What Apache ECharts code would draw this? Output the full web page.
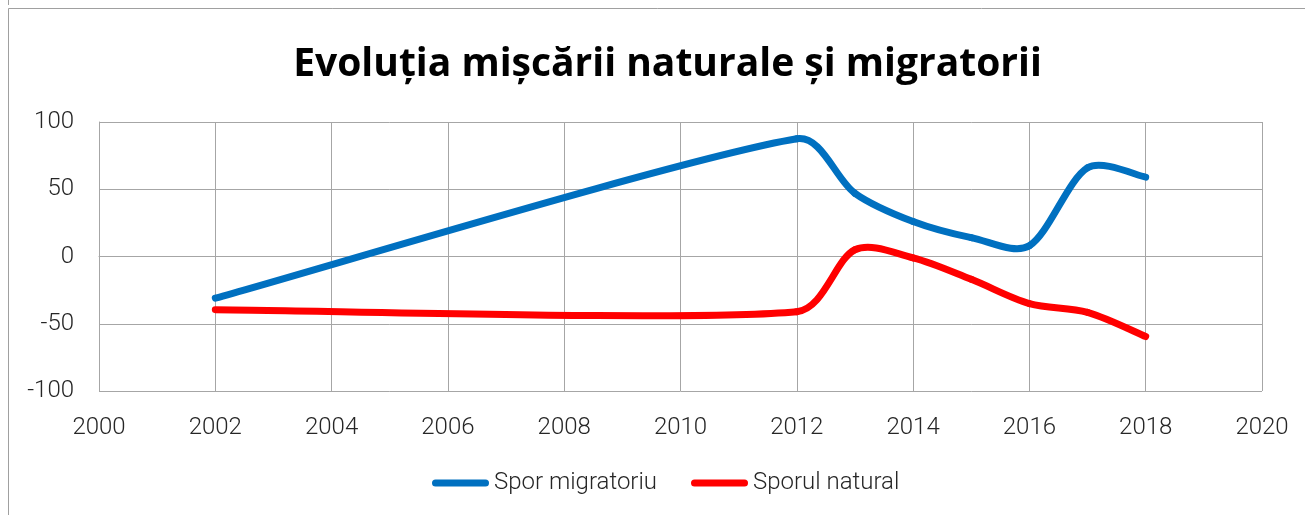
<!DOCTYPE html>
<html>
<head>
<meta charset="utf-8">
<script src="https://cdn.jsdelivr.net/npm/echarts@6/dist/echarts.min.js"></script>
<style>
html,body{margin:0;padding:0;background:#fff;}
#c{width:1305px;height:515px;}
</style>
</head>
<body>
<div id="c"></div>
<script>
const titleText = 'Evoluția mișcării naturale și migratorii';
const seriesNames = ['Spor migratoriu', 'Sporul natural'];
const years = [2002, 2012, 2013, 2014, 2015, 2016, 2017, 2018];
const migValues = [-31, 87.5, 47, 26, 14, 8, 66, 59];
const natValues = [-39.5, -41, 5, -1, -17, -35, -41.5, -59.5];
const xTicks = { min: 2000, max: 2020, step: 2 };
const yTicks = { min: -100, max: 100, step: 50 };

const pairs = (xs, ys) => xs.map((x, i) => [x, ys[i]]);
const labelFont = 'Roboto, "Liberation Sans", sans-serif';

// Excel-like smoothed line: each segment is a cubic Bezier whose control
// points follow the neighbouring points (chord-length weighted, capped).
function smoothRenderer(color) {
  return function (params, api) {
    const i = params.dataIndexInside;
    const n = params.dataInsideLength;
    if (i >= n - 1) return null;
    const pt = (k) => {
      k = Math.max(0, Math.min(n - 1, k));
      return api.coord([api.value(0, k), api.value(1, k)]);
    };
    const dist = (a, b) => Math.hypot(a[0] - b[0], a[1] - b[1]);
    const p0 = pt(i - 1), p1 = pt(i), p2 = pt(i + 1), p3 = pt(i + 2);
    const d01 = dist(p0, p1), d12 = dist(p1, p2), d23 = dist(p2, p3);
    const f1 = Math.min(d12 / (d01 + d12), 0.5) / 3;
    const f2 = Math.min(d12 / (d12 + d23), 0.5) / 3;
    return {
      type: 'bezierCurve',
      shape: {
        x1: p1[0], y1: p1[1],
        cpx1: p1[0] + (p2[0] - p0[0]) * f1, cpy1: p1[1] + (p2[1] - p0[1]) * f1,
        cpx2: p2[0] - (p3[0] - p1[0]) * f2, cpy2: p2[1] - (p3[1] - p1[1]) * f2,
        x2: p2[0], y2: p2[1]
      },
      style: { stroke: color, lineWidth: 7, fill: null, lineCap: 'round', lineJoin: 'round' }
    };
  };
}

const chart = echarts.init(document.getElementById('c'), null, { renderer: 'canvas' });
chart.setOption({
  animation: false,
  backgroundColor: '#ffffff',
  graphic: [
    { type: 'rect', shape: { x: 8.5, y: 8.5, width: 1400, height: 600 }, style: { fill: 'none', stroke: '#a0a0a0', lineWidth: 1 }, silent: true },
    { type: 'line', shape: { x1: 8.5, y1: 0, x2: 8.5, y2: 5 }, style: { stroke: '#a0a0a0', lineWidth: 1 }, silent: true }
  ],
  title: {
    text: titleText,
    left: 662.5,
    textAlign: 'center',
    top: 40,
    textStyle: { fontFamily: '"Open Sans", sans-serif', fontWeight: 'bold', fontSize: 39, color: '#000' }
  },
  legend: {
    left: 432,
    top: 471,
    padding: 0,
    itemWidth: 57,
    itemHeight: 7,
    itemGap: 34,
    icon: 'path://M3.5,0 L53.5,0 A3.5,3.5 0 0 1 53.5,7 L3.5,7 A3.5,3.5 0 0 1 3.5,0 Z',
    textStyle: { fontFamily: labelFont, fontWeight: 300, fontSize: 24, color: '#262626' },
    data: seriesNames
  },
  grid: { left: 99, right: 43, top: 122, bottom: 124, containLabel: false },
  xAxis: {
    type: 'value',
    min: xTicks.min, max: xTicks.max, interval: xTicks.step,
    axisLine: { show: true, lineStyle: { color: '#a6a6a6', width: 1 } },
    axisTick: { show: false },
    splitLine: { show: true, lineStyle: { color: '#a6a6a6', width: 1 } },
    axisLabel: { fontFamily: labelFont, fontWeight: 300, fontSize: 24, color: '#262626', margin: 25, formatter: v => String(v) }
  },
  yAxis: {
    type: 'value',
    min: yTicks.min, max: yTicks.max, interval: yTicks.step,
    axisLine: { show: true, lineStyle: { color: '#a6a6a6', width: 1 } },
    axisTick: { show: false },
    splitLine: { show: true, lineStyle: { color: '#a6a6a6', width: 1 } },
    axisLabel: { fontFamily: labelFont, fontWeight: 300, fontSize: 24, color: '#262626', margin: 25 }
  },
  series: [
    {
      name: seriesNames[0], type: 'custom', clip: true,
      data: pairs(years, migValues), encode: { x: 0, y: 1 },
      itemStyle: { color: '#0070C0' },
      renderItem: smoothRenderer('#0070C0')
    },
    {
      name: seriesNames[1], type: 'custom', clip: true,
      data: pairs(years, natValues), encode: { x: 0, y: 1 },
      itemStyle: { color: '#FF0000' },
      renderItem: smoothRenderer('#FF0000')
    }
  ]
});
</script>
</body>
</html>
